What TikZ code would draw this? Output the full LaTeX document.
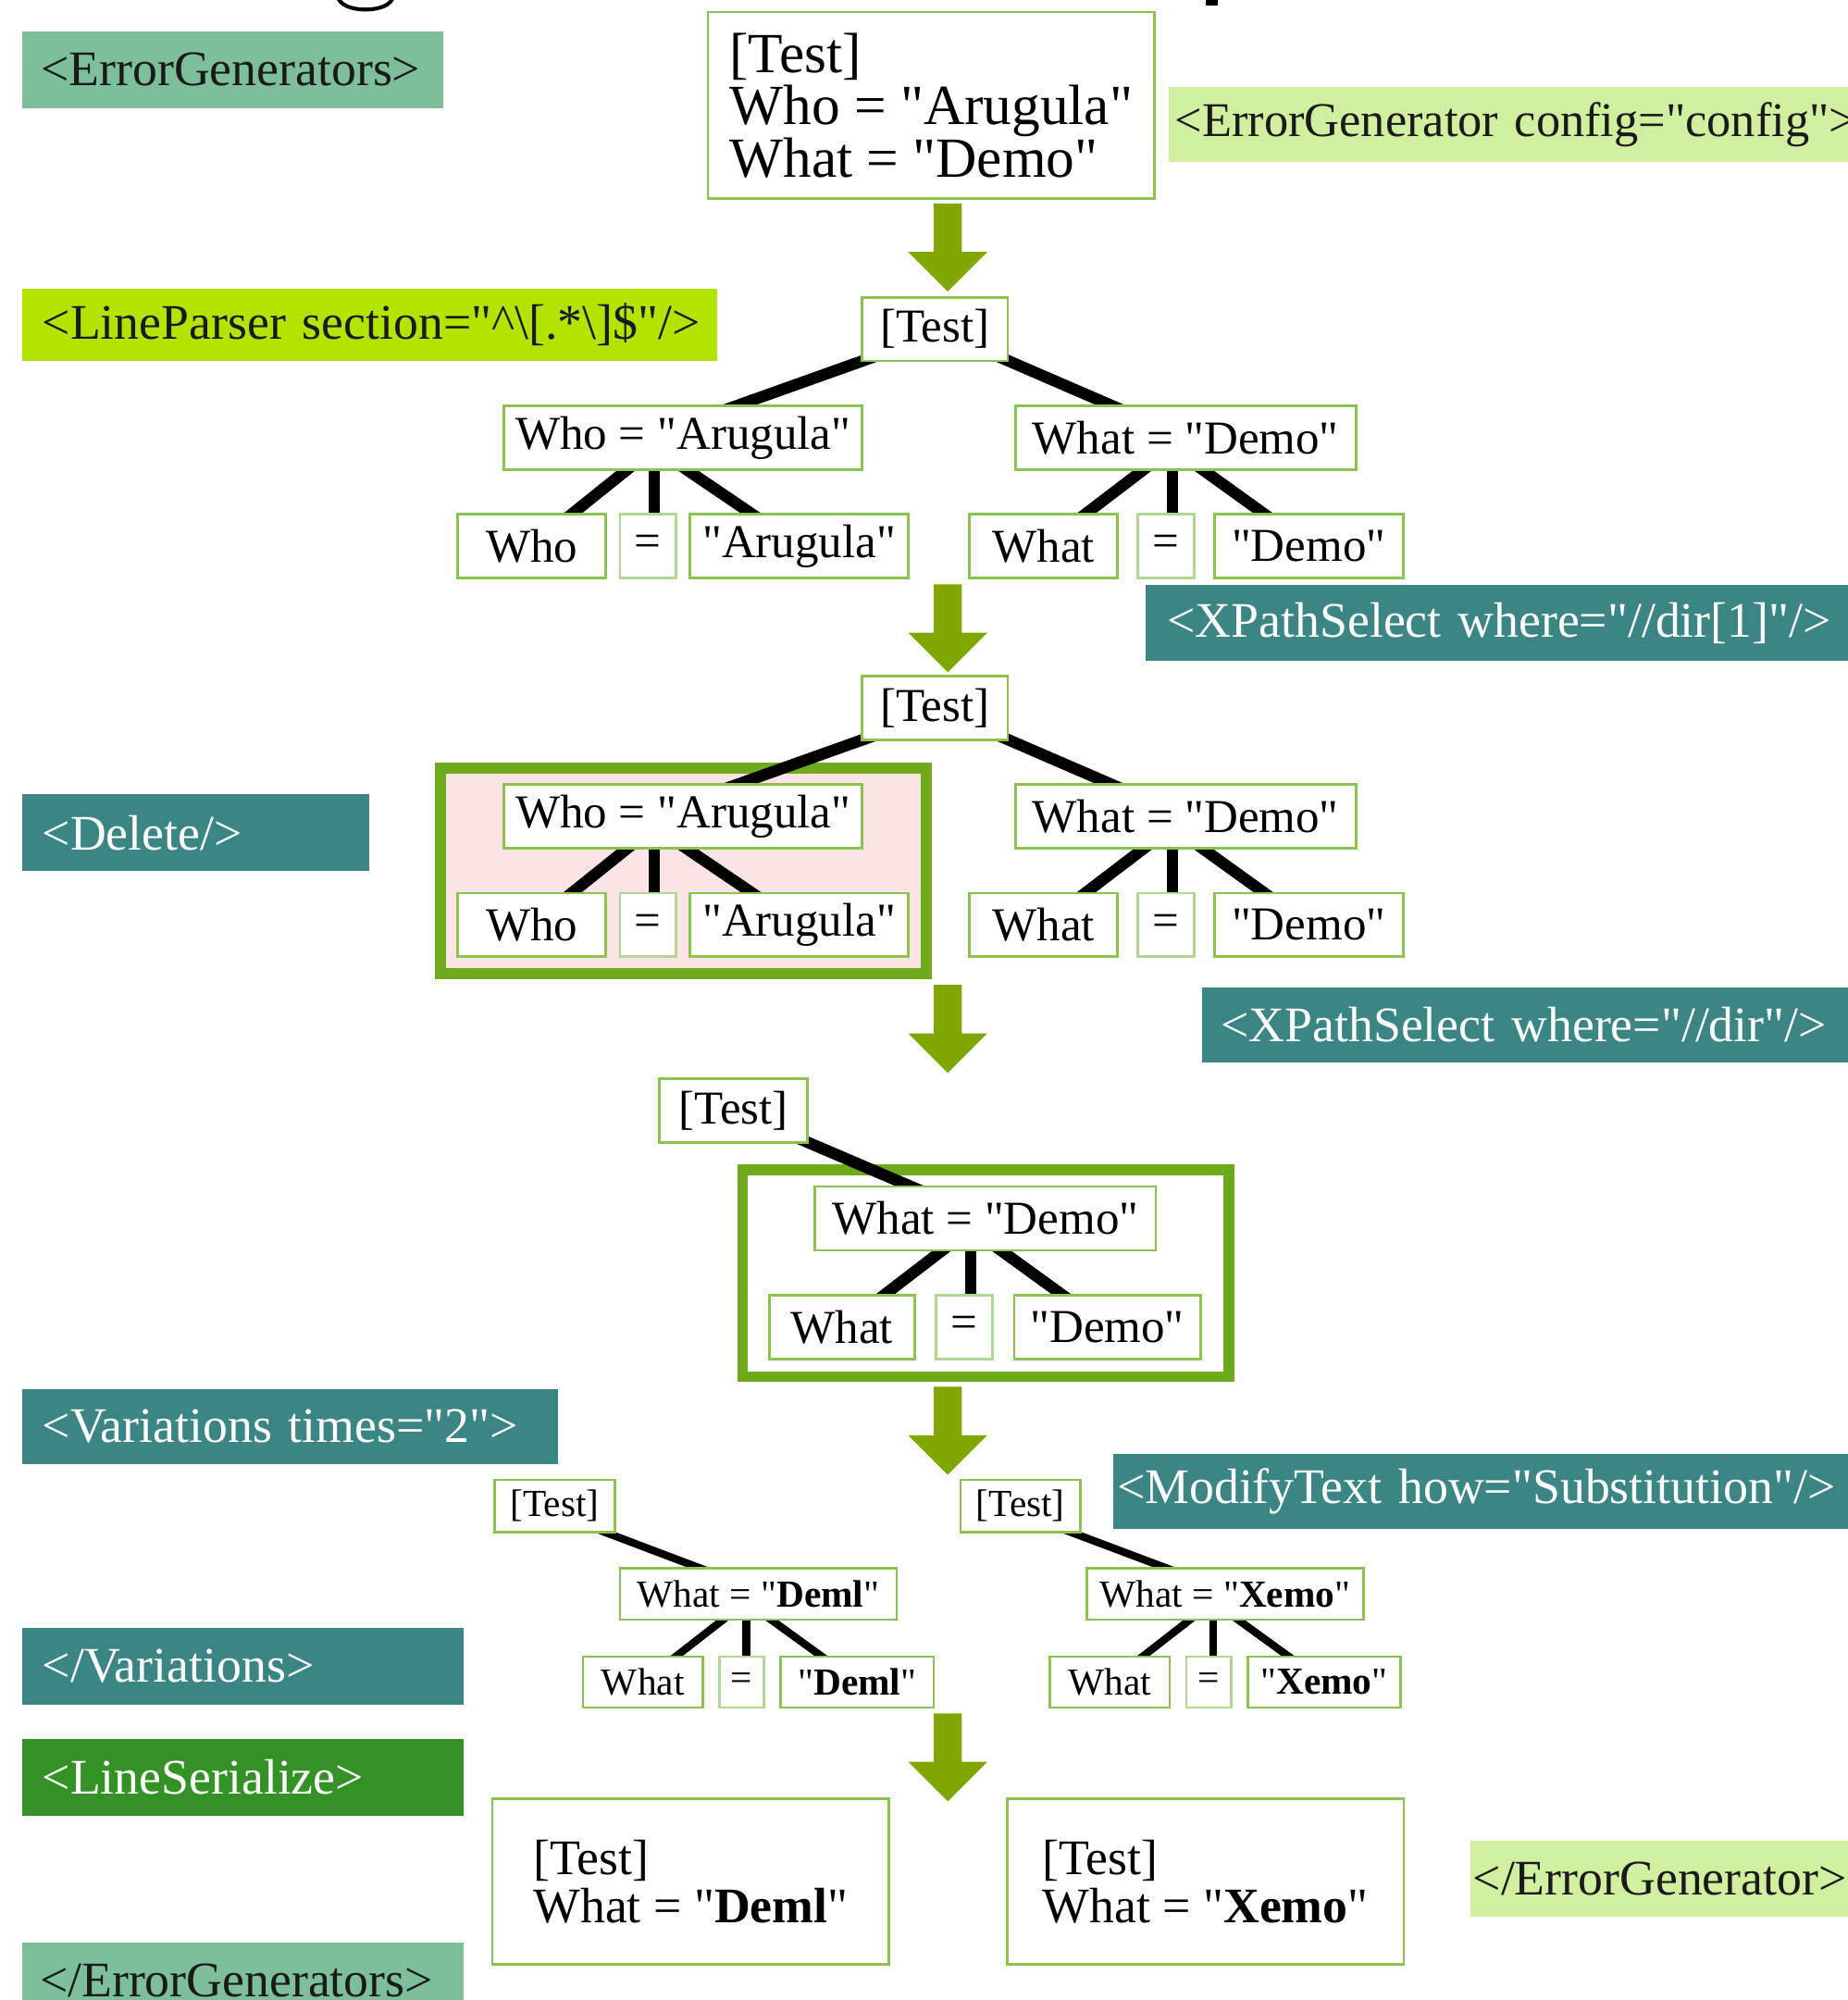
\documentclass[tikz,border=0pt]{standalone}
\usepackage{fontspec}
\setmainfont{Liberation Serif}[Ligatures=TeXOff]
\usetikzlibrary{backgrounds,calc}
\definecolor{egcol}{HTML}{7CBF9A}
\definecolor{eglight}{HTML}{D0F0A0}
\definecolor{limecol}{HTML}{B2E400}
\definecolor{tealcol}{HTML}{3C8585}
\definecolor{lscol}{HTML}{339126}
\definecolor{arrcol}{HTML}{80A600}
\definecolor{nodegreen}{HTML}{8CC350}
\definecolor{eqgreen}{HTML}{B0D890}
\definecolor{thickgreen}{HTML}{6EAA19}
\definecolor{pinkcol}{HTML}{FCE4E4}
\definecolor{darktext}{HTML}{1A1A1A}
\newcommand\blockarrow[2]{\fill[arrcol, shift={(#1,#2)}] (-11,0) -- (11,0) -- (11,38) -- (31,38) -- (0,69) -- (-31,38) -- (-11,38) -- cycle;}
\tikzset{
  tn/.style={draw=nodegreen, line width=2pt, fill=white, inner sep=0pt, minimum height=50pt, font=\fontsize{37}{40}\selectfont},
  eqn/.style={tn, draw=eqgreen},
  sn/.style={tn, minimum height=40pt, font=\fontsize{30}{32}\selectfont},
  seqn/.style={sn, draw=eqgreen},
  tag/.style={anchor=north west, inner ysep=0pt, align=left, font=\fontsize{39}{42}\selectfont},
  tagteal/.style={tag, fill=tealcol, text=white},
  tagmid/.style={tag, fill=egcol, text=darktext},
  taglight/.style={tag, fill=eglight, text=darktext},
  taglime/.style={tag, fill=limecol, text=darktext},
  tagls/.style={tag, fill=lscol, text=white},
  tline/.style={line width=9pt},
  sline/.style={line width=6pt},
  bigbox/.style={draw=nodegreen, line width=2pt, fill=white, align=left, inner sep=0pt},
}
\begin{document}
\begin{tikzpicture}[x=1pt, y=-1pt]
\useasboundingbox (0,0) rectangle (1448,1567.7);
% title fragments
\draw[line width=3pt] (265,-3) .. controls (266,11) and (307,11) .. (308,-3);
\fill (945.5,-1) rectangle (954.5,4.4);

% tags
\node[tagmid, minimum height=60pt, inner xsep=15pt, text width=300pt] (eg) at (17,24.5) {\mbox{<ErrorGenerators>}};
\node[taglight, minimum height=59pt, inner xsep=5pt, text width=570pt, font=\fontsize{38}{42}\selectfont] (egc) at (916,68) {\mbox{<ErrorGenerator config="config">}};
\node[taglime, minimum height=57pt, inner xsep=16pt, text width=513pt] (lp) at (17,226) {\mbox{<LineParser section="\textasciicircum\textbackslash[.*\textbackslash]\$"/>}};
\node[tagteal, minimum height=59pt, inner xsep=17pt, text width=526pt] (xp1) at (898,458.5) {\mbox{<XPathSelect where="//dir[1]"/>}};
\node[tagteal, minimum height=60pt, inner xsep=16pt, text width=240pt] (del) at (17,622.5) {\mbox{<Delete/>}};
\node[tagteal, minimum height=59pt, inner xsep=15pt, text width=490pt] (xp2) at (942,773.5) {\mbox{<XPathSelect where="//dir"/>}};
\node[tagteal, minimum height=59pt, inner xsep=16pt, text width=388pt] (var) at (17,1088.5) {\mbox{<Variations times="2">}};
\node[tagteal, minimum height=59pt, inner xsep=3pt, text width=584pt] (mt) at (872.5,1139.5) {\mbox{<ModifyText how="Substitution"/>}};
\node[tagteal, minimum height=60pt, inner xsep=16pt, text width=314pt] (evar) at (17,1276) {\mbox{</Variations>}};
\node[tagls, minimum height=60pt, inner xsep=16pt, text width=314pt] (ls) at (17,1363) {\mbox{<LineSerialize>}};
\node[taglight, minimum height=60pt, inner xsep=2pt, text width=306pt] (eeg) at (1152.5,1442.5) {\mbox{</ErrorGenerator>}};
\node[tagmid, minimum height=60pt, inner xsep=14pt, text width=318pt] (eegs) at (17,1522.5) {\mbox{</ErrorGenerators>}};

% top box
\node[bigbox, minimum width=350pt, minimum height=146pt, font=\fontsize{44.5}{41}\selectfont] (top) at (730,82.5) {[Test]\\Who = "Arugula"\\What = "Demo"};

% section 1
\node[tn, minimum width=114pt] (T1) at (733,258) {[Test]};
\node[tn, minimum width=281pt] (A1) at (535.5,343) {Who = "Arugula"};
\node[tn, minimum width=267pt] (B1) at (929.5,343) {What = "Demo"};
\node[tn, minimum width=116pt] (A1a) at (417,428) {Who};
\node[eqn, minimum width=44pt] (A1b) at (508,428) {=};
\node[tn, minimum width=171pt] (A1c) at (626.5,428) {"Arugula"};
\node[tn, minimum width=116pt] (B1a) at (818,428) {What};
\node[eqn, minimum width=44pt] (B1b) at (914,428) {=};
\node[tn, minimum width=148pt] (B1c) at (1026,428) {"Demo"};

% section 2
\node[tn, minimum width=114pt] (T2) at (733,555) {[Test]};
\node[tn, minimum width=281pt] (A2) at (535.5,640) {Who = "Arugula"};
\node[tn, minimum width=267pt] (B2) at (929.5,640) {What = "Demo"};
\node[tn, minimum width=116pt] (A2a) at (417,725) {Who};
\node[eqn, minimum width=44pt] (A2b) at (508,725) {=};
\node[tn, minimum width=171pt] (A2c) at (626.5,725) {"Arugula"};
\node[tn, minimum width=116pt] (B2a) at (818,725) {What};
\node[eqn, minimum width=44pt] (B2b) at (914,725) {=};
\node[tn, minimum width=148pt] (B2c) at (1026,725) {"Demo"};

% section 3
\node[tn, minimum width=116pt] (T3) at (575,870.5) {[Test]};
\node[tn, minimum width=267pt] (B3) at (772.5,955) {What = "Demo"};
\node[tn, minimum width=114pt] (B3a) at (660,1040.5) {What};
\node[eqn, minimum width=44pt] (B3b) at (756,1040.5) {=};
\node[tn, minimum width=146pt] (B3c) at (868,1040.5) {"Demo"};

% section 4
\node[sn, minimum width=94pt, minimum height=41pt] (T4) at (435,1180.5) {[Test]};
\node[sn, minimum width=217pt] (D4) at (594.5,1249.5) {What = "\textbf{Deml}"};
\node[sn, minimum width=94pt] (D4a) at (504,1318.5) {What};
\node[seqn, minimum width=35pt] (D4b) at (581.5,1318.5) {=};
\node[sn, minimum width=120pt] (D4c) at (672,1318.5) {"\textbf{Deml}"};
\node[sn, minimum width=94pt, minimum height=41pt] (T5) at (800,1180.5) {[Test]};
\node[sn, minimum width=217pt] (X4) at (960.5,1249.5) {What = "\textbf{Xemo}"};
\node[sn, minimum width=94pt] (X4a) at (870,1318.5) {What};
\node[seqn, minimum width=35pt] (X4b) at (947.5,1318.5) {=};
\node[sn, minimum width=120pt] (X4c) at (1038,1318.5) {"\textbf{Xemo}"};

% final boxes
\node[bigbox, minimum width=311pt, minimum height=130pt, font=\fontsize{39}{37.5}\selectfont] (F1) at (541.5,1475) {[Test]\\What = "\textbf{Deml}"};
\node[bigbox, minimum width=311pt, minimum height=130pt, font=\fontsize{39}{37.5}\selectfont] (F2) at (945,1475) {[Test]\\What = "\textbf{Xemo}"};

% arrows
\blockarrow{743}{159.5}
\blockarrow{743}{458}
\blockarrow{743}{772}
\blockarrow{743}{1087}
\blockarrow{743}{1343}

\begin{scope}[on background layer]
  \draw[draw=thickgreen, line width=8.7pt, fill=pinkcol] (345.5,602) rectangle (726.5,763.5);
  \draw[draw=thickgreen, line width=8.3pt, fill=white] (582,917) rectangle (963.3,1079);
  % section 1
  \draw[tline] ($(T1.center)+(13,0)$) -- ($(A1.center)+(-28,0)$);
  \draw[tline] (T1.center) -- (B1.center);
  \coordinate (oA1) at ($(A1.center -| A1b.center)+(5,8)$);
  \draw[tline] (oA1) -- (A1a.center);
  \draw[tline] (oA1) -- (oA1 |- A1b.center);
  \draw[tline] (oA1) -- (A1c.center);
  \coordinate (oB1) at ($(B1.center -| B1b.center)+(5,8)$);
  \draw[tline] (oB1) -- (B1a.center);
  \draw[tline] (oB1) -- (oB1 |- B1b.center);
  \draw[tline] (oB1) -- (B1c.center);
  % section 2
  \draw[tline] ($(T2.center)+(13,0)$) -- ($(A2.center)+(-28,0)$);
  \draw[tline] (T2.center) -- (B2.center);
  \coordinate (oA2) at ($(A2.center -| A2b.center)+(5,8)$);
  \draw[tline] (oA2) -- (A2a.center);
  \draw[tline] (oA2) -- (oA2 |- A2b.center);
  \draw[tline] (oA2) -- (A2c.center);
  \coordinate (oB2) at ($(B2.center -| B2b.center)+(5,8)$);
  \draw[tline] (oB2) -- (B2a.center);
  \draw[tline] (oB2) -- (oB2 |- B2b.center);
  \draw[tline] (oB2) -- (B2c.center);
  % section 3
  \draw[tline] (T3.center) -- (B3.center);
  \coordinate (oB3) at ($(B3.center -| B3b.center)+(5,8)$);
  \draw[tline] (oB3) -- (B3a.center);
  \draw[tline] (oB3) -- (oB3 |- B3b.center);
  \draw[tline] (oB3) -- (B3c.center);
  % section 4
  \draw[sline] ($(T4.center)+(-15,0)$) -- ($(D4.center)+(8,0)$);
  \coordinate (oD4) at ($(D4.center -| D4b.center)+(3.5,6)$);
  \draw[sline] (oD4) -- (D4a.center);
  \draw[sline] (oD4) -- (oD4 |- D4b.center);
  \draw[sline] (oD4) -- (D4c.center);
  \draw[sline] ($(T5.center)+(-15,0)$) -- ($(X4.center)+(8,0)$);
  \coordinate (oX4) at ($(X4.center -| X4b.center)+(3.5,6)$);
  \draw[sline] (oX4) -- (X4a.center);
  \draw[sline] (oX4) -- (oX4 |- X4b.center);
  \draw[sline] (oX4) -- (X4c.center);
\end{scope}
\end{tikzpicture}
\end{document}
